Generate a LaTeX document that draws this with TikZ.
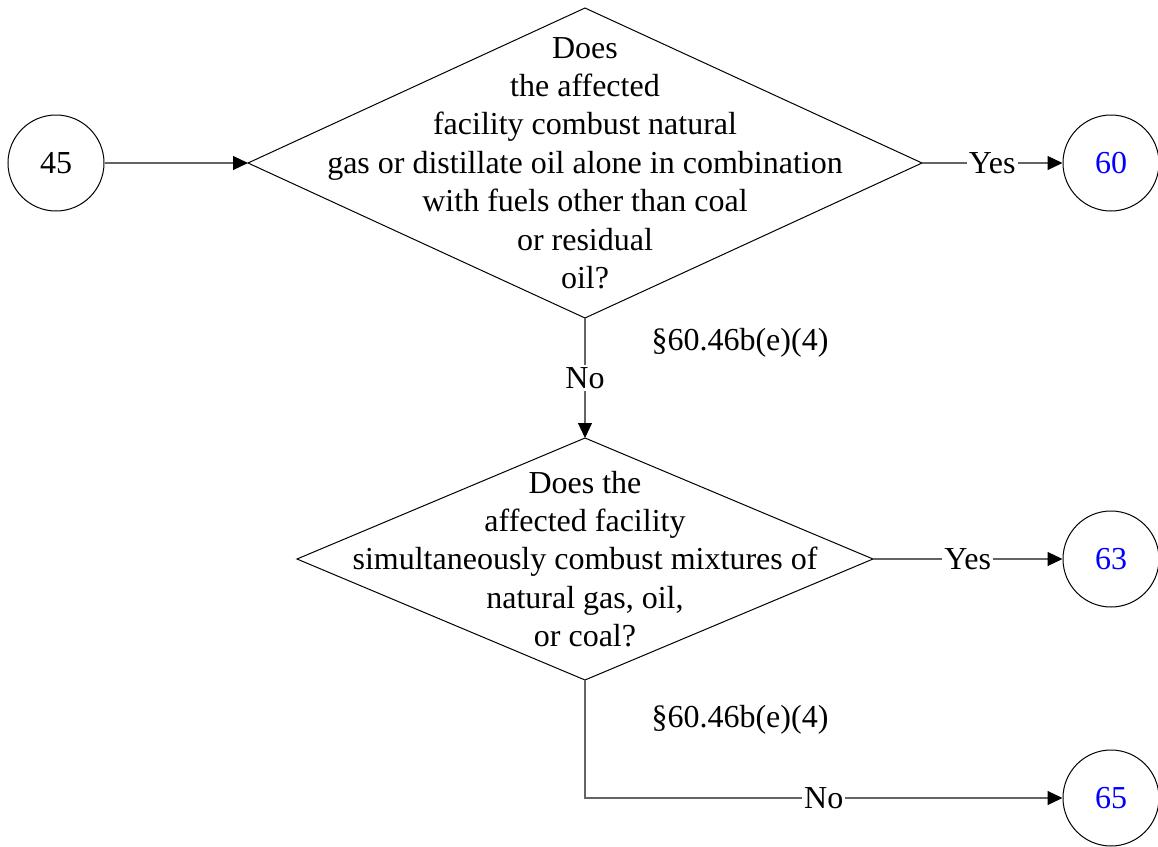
\documentclass[tikz,border=0pt]{standalone}
\usepackage{fontspec}
\setmainfont{Liberation Serif}
\usetikzlibrary{arrows.meta, positioning, shapes.geometric}
\definecolor{textMain}{RGB}{0, 0, 0}
\definecolor{linkBlue}{RGB}{0, 0, 255}
\definecolor{lineGray}{RGB}{100, 100, 100}

\begin{document}
\begin{tikzpicture}[
    x=0.5pt, y=-0.5pt,
    font=\fontsize{16}{19.2}\selectfont,
    conn/.style={circle, draw=black, text=textMain, minimum size=48pt, inner sep=0pt, line width=0.5pt},
    decision/.style={diamond, draw=black, inner sep=0pt, outer sep=0pt, line width=0.5pt},
    qtext/.style={align=center, inner sep=0pt, text=textMain},
    flow/.style={-{Triangle[length=7.5pt, width=7pt, black]}, line width=0.6pt, draw=lineGray},
    lbl/.style={fill=white, inner sep=1pt, text=textMain}
  ]
    \useasboundingbox (0,0) rectangle (1158,847);

    % Off-page connectors
    \node[conn] (c45) at (56,163) {45};
    \node[conn, text=linkBlue] (c60) at (1111,163) {60};
    \node[conn, text=linkBlue] (c63) at (1111,559) {63};
    \node[conn, text=linkBlue] (c65) at (1111,798) {65};

    % Decision Nodes
    \node[decision, minimum width=337pt, minimum height=155pt] (q1) at (585,163) {};
    \node[qtext] (q1text) at (585,163) {Does\\the affected\\facility combust natural\\gas or distillate oil alone in combination\\with fuels other than coal\\or residual\\oil?};
    \node[decision, minimum width=288pt, minimum height=121pt] (q2) at (585,559) {};
    \node[qtext] (q2text) at (585,559) {Does the\\affected facility\\simultaneously combust mixtures of\\natural gas, oil,\\or coal?};

    % Rule references
    \node[qtext] (ref1) at (740,343) {\S60.46b(e)(4)};
    \node[qtext] (ref2) at (740,720) {\S60.46b(e)(4)};

    % Connectors
    \draw[flow] (c45) -- (q1.west);
    \draw[flow] (q1.east) -- node[lbl] {Yes} (c60);
    \draw[flow] (q1.south) -- node[lbl] {No} (q2.north);
    \draw[flow] (q2.east) -- node[lbl] {Yes} (c63);
    \draw[flow] (q2.south) |- node[lbl, pos=0.75] {No} (c65);
  \end{tikzpicture}
\end{document}
